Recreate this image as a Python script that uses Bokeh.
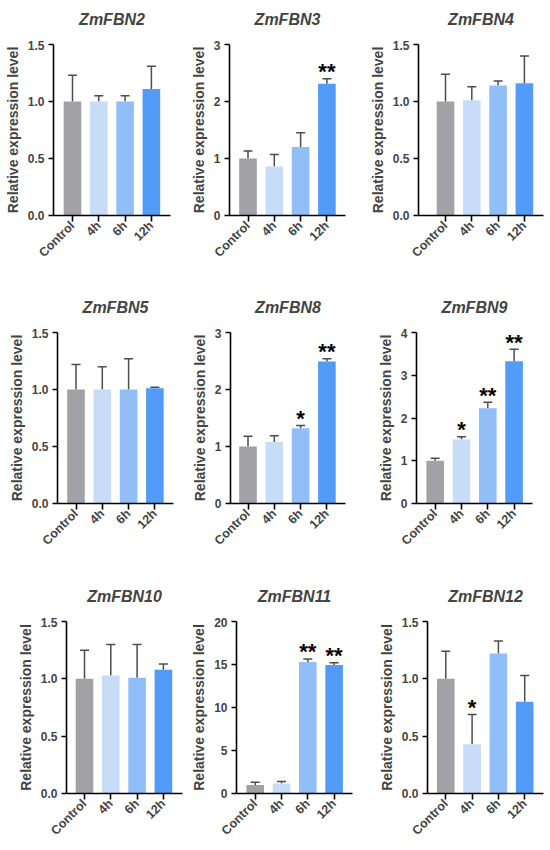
import math
from bokeh.plotting import figure
from bokeh.layouts import column, row
from bokeh.models import (ColumnDataSource, Whisker, TeeHead, FixedTicker,
                          PrintfTickFormatter, Range1d)
from bokeh.core.properties import value
from bokeh.embed import file_html
from bokeh.resources import INLINE

# ---------------- data ----------------
categories = ["Control", "4h", "6h", "12h"]
genes = ["ZmFBN2", "ZmFBN3", "ZmFBN4", "ZmFBN5", "ZmFBN8", "ZmFBN9",
         "ZmFBN10", "ZmFBN11", "ZmFBN12"]
means = [
    [1.00, 1.00, 1.00, 1.11],
    [1.00, 0.86, 1.20, 2.31],
    [1.00, 1.01, 1.14, 1.16],
    [1.00, 1.00, 1.00, 1.01],
    [1.00, 1.08, 1.32, 2.49],
    [1.00, 1.50, 2.23, 3.33],
    [1.00, 1.03, 1.01, 1.08],
    [1.00, 1.15, 15.30, 14.95],
    [1.00, 0.43, 1.22, 0.80],
]
upper = [
    [1.23, 1.05, 1.05, 1.31],
    [1.13, 1.07, 1.45, 2.40],
    [1.24, 1.13, 1.18, 1.40],
    [1.22, 1.20, 1.27, 1.02],
    [1.18, 1.19, 1.37, 2.54],
    [1.06, 1.56, 2.37, 3.61],
    [1.25, 1.30, 1.30, 1.13],
    [1.30, 1.40, 15.65, 15.20],
    [1.24, 0.69, 1.33, 1.03],
]
stars = [
    ["", "", "", ""],
    ["", "", "", "**"],
    ["", "", "", ""],
    ["", "", "", ""],
    ["", "", "*", "**"],
    ["", "*", "**", "**"],
    ["", "", "", ""],
    ["", "", "**", "**"],
    ["", "*", "", ""],
]
y_max = [1.5, 3, 1.5, 1.5, 3, 4, 1.5, 20, 1.5]
y_step = [0.5, 1, 0.5, 0.5, 1, 1, 0.5, 5, 0.5]
y_fmt = ["%.1f", "%d", "%.1f", "%.1f", "%d", "%d", "%.1f", "%d", "%.1f"]
bar_colors = ["#A2A1A6", "#C6DCF7", "#92BEF8", "#529CF8"]

# ---------------- layout (screen pixels) ----------------
FIG_LEFT = [1, 184, 364]
FIG_W = [183, 180, 184]
ROW_TOP = [1, 289, 578]
ROW_H = [288, 289, 270]
TITLE_H = 40
TITLE_STANDOFF = 16
AXIS_X = [54, 230, 419, 58, 231, 417, 67, 237, 428]
FRAME_TOP = [45, 45, 45, 333, 333, 333, 622, 622, 622]
FRAME_BOT = [216, 216, 216, 504, 504, 504, 794, 794, 794]
FIRST_C = [73, 248.5, 446, 76.5, 248.5, 435.7, 85, 255.7, 446.3]
SPACING = 26.3

FONT = "Liberation Sans"


def make_panel(i):
    r, c = divmod(i, 3)
    fig_left, fig_w = FIG_LEFT[c], FIG_W[c]
    left_b = AXIS_X[i] - fig_left
    offset = (FIRST_C[i] - AXIS_X[i]) / SPACING
    x0 = 1 - offset
    frame_right = AXIS_X[i] + (4 + 0.715 - x0) * SPACING
    frame_right = min(frame_right, fig_left + fig_w - 1)
    frame_right = int(round(frame_right))
    x1 = x0 + (frame_right - AXIS_X[i]) / SPACING
    right_b = fig_left + fig_w - frame_right
    top_b = FRAME_TOP[i] - ROW_TOP[r] - TITLE_H
    plot_h = ROW_H[r] - TITLE_H
    bot_b = ROW_TOP[r] + ROW_H[r] - FRAME_BOT[i]

    # ---- title strip (same horizontal frame as the chart below) ----
    t = figure(width=fig_w, height=TITLE_H, output_backend="svg",
               toolbar_location=None, x_range=Range1d(0, 1),
               y_range=Range1d(0, 1), x_axis_location=None,
               y_axis_location=None, min_border_left=left_b,
               min_border_right=right_b, min_border_top=0,
               min_border_bottom=0, title=genes[i])
    t.outline_line_color = None
    t.xgrid.visible = False
    t.ygrid.visible = False
    t.title.align = "center"
    t.title.text_font = FONT
    t.title.text_font_style = "bold italic"
    t.title.text_font_size = "16px"
    t.title.standoff = TITLE_STANDOFF

    # ---- bar chart ----
    p = figure(width=fig_w, height=plot_h, output_backend="svg",
               toolbar_location=None, x_range=Range1d(x0, x1),
               y_range=Range1d(0, y_max[i]), title_location=None,
               min_border_left=left_b, min_border_right=right_b,
               min_border_top=top_b, min_border_bottom=bot_b)
    p.outline_line_color = None
    p.xgrid.visible = False
    p.ygrid.visible = False
    p.background_fill_color = "white"

    xs = [1, 2, 3, 4]
    src = ColumnDataSource(dict(x=xs, top=means[i], up=upper[i],
                                color=bar_colors, star=stars[i]))
    p.vbar(x="x", top="top", bottom=0, width=0.67, source=src,
           fill_color="color", line_color=None)

    w = Whisker(base="x", lower="top", upper="up", source=src,
                dimension="height", line_color="#4d4d4d", line_width=1.5,
                upper_head=TeeHead(size=9, line_color="#4d4d4d", line_width=1.5),
                lower_head=None)
    p.add_layout(w)

    p.text(x="x", y="up", text="star", source=src, text_align="center",
           text_baseline="alphabetic", y_offset=-7, text_font=value(FONT),
           text_font_style="bold",
           text_font_size="22px", text_color="black")

    # y axis
    ticks = []
    v = 0.0
    while v <= y_max[i] + 1e-9:
        ticks.append(round(v, 3))
        v += y_step[i]
    ya = p.yaxis[0]
    ya.ticker = FixedTicker(ticks=ticks)
    ya.formatter = PrintfTickFormatter(format=y_fmt[i])
    ya.axis_label = "Relative expression level"
    ya.axis_label_text_font = FONT
    ya.axis_label_text_font_style = "bold"
    ya.axis_label_text_font_size = "14px"
    ya.axis_label_standoff = 4
    ya.major_label_text_font = FONT
    ya.major_label_text_font_style = "bold"
    ya.major_label_text_font_size = "12px"
    ya.major_label_standoff = 4
    ya.major_tick_out = 5
    ya.major_tick_in = 0
    ya.minor_tick_out = 0
    ya.minor_tick_in = 0
    ya.axis_line_width = 1.6
    ya.major_tick_line_width = 1.6
    ya.axis_line_color = "black"

    # x axis
    xa = p.xaxis[0]
    xa.ticker = FixedTicker(ticks=xs)
    xa.major_label_overrides = {k: v for k, v in zip(xs, categories)}
    xa.major_label_orientation = math.pi / 4
    xa.major_label_text_font = FONT
    xa.major_label_text_font_style = "bold"
    xa.major_label_text_font_size = "12.5px"
    xa.major_label_standoff = 2
    xa.major_tick_out = 6
    xa.major_tick_in = 0
    xa.minor_tick_out = 0
    xa.minor_tick_in = 0
    xa.axis_line_width = 1.6
    xa.major_tick_line_width = 1.6
    xa.axis_line_color = "black"
    return column(t, p)


panels = [make_panel(i) for i in range(9)]
layout = column(row(*panels[0:3]), row(*panels[3:6]), row(*panels[6:9]))

open("out.html", "w").write(file_html(layout, INLINE))
